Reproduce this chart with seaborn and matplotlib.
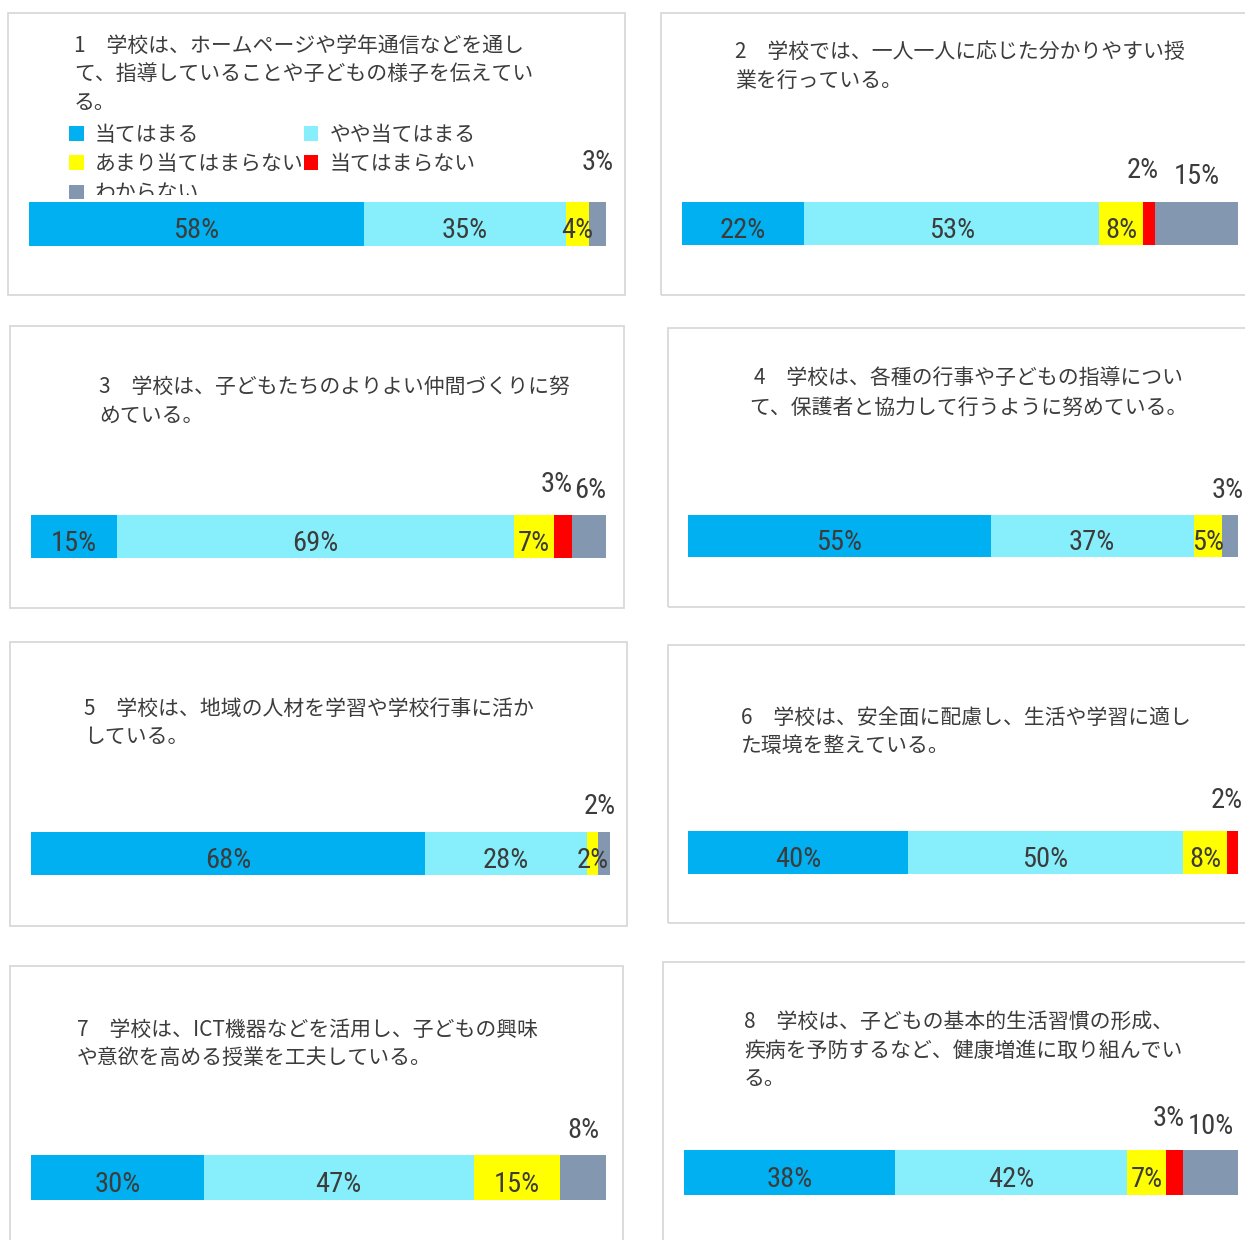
import numpy as np
import pandas as pd
import seaborn as sns
import matplotlib as mpl
import matplotlib.pyplot as plt
from matplotlib.patches import Rectangle, Patch
from matplotlib.transforms import Bbox
from matplotlib import font_manager

sns.set_theme(style='white')
plt.rcParams['font.family'] = ['Noto Sans CJK JP', 'DejaVu Sans']

W, H = 1245, 1240
TXT = '#3c3c3c'

# narrow face for the percent labels, whatever is installed
fonts = [(f.name, f.stretch) for f in font_manager.fontManager.ttflist]
narrow = ('condensed', 'semi-condensed', 'extra-condensed', 'ultra-condensed')
NUM_KW = dict(family=['DejaVu Sans'], fontsize=15)
for want in ['Liberation Sans Narrow', 'Roboto Condensed', 'Open Sans Condensed']:
    if any(n == want for n, s in fonts):
        NUM_KW = dict(family=[want], fontsize=20.5)
        break
else:
    for fam in ['Roboto', 'Noto Sans', 'Open Sans', 'DejaVu Sans', 'Inter']:
        hit = [s for n, s in fonts if n == fam and s in narrow]
        if hit:
            NUM_KW = dict(family=[fam], fontstretch=hit[0], fontsize=20.5)
            break

# ---- data ----
categories = ['当てはまる', 'やや当てはまる', 'あまり当てはまらない', '当てはまらない', 'わからない']
colors = ['#00B0F0', '#87EFFC', '#FFFF00', '#FF0000', '#8497B0']

titles = [
    '1　学校は、ホームページや学年通信などを通し\nて、指導していることや子どもの様子を伝えてい\nる。',
    '2　学校では、一人一人に応じた分かりやすい授\n業を行っている。',
    '3　学校は、子どもたちのよりよい仲間づくりに努\nめている。',
    '4　学校は、各種の行事や子どもの指導につい\nて、保護者と協力して行うように努めている。',
    '5　学校は、地域の人材を学習や学校行事に活か\nしている。',
    '6　学校は、安全面に配慮し、生活や学習に適し\nた環境を整えている。',
    '7　学校は、ICT機器などを活用し、子どもの興味\nや意欲を高める授業を工夫している。',
    '8　学校は、子どもの基本的生活習慣の形成、\n疾病を予防するなど、健康増進に取り組んでい\nる。',
]

q1 = [58, 35, 4, 0, 3]
q2 = [22, 53, 8, 2, 15]
q3 = [15, 69, 7, 3, 6]
q4 = [55, 37, 5, 0, 3]
q5 = [68, 28, 2, 0, 2]
q6 = [40, 50, 8, 2, 0]
q7 = [30, 47, 15, 0, 8]
q8 = [38, 42, 7, 3, 10]
values = [q1, q2, q3, q4, q5, q6, q7, q8]

# ---- layout (pixels, top-left origin) ----
boxes = [(8, 13, 625, 295), (661, 13, 1250, 295),
         (10, 326, 624, 608), (668, 328, 1250, 607),
         (10, 642, 627, 926), (668, 645, 1250, 923),
         (10, 966, 623, 1245), (663, 962, 1250, 1245)]
bars = [(29, 202, 606, 246), (682, 202, 1238, 245),
        (31, 515, 606, 558), (688, 515, 1238, 557),
        (31, 832, 610, 875), (688, 831, 1238, 874),
        (31, 1155, 606, 1200), (684, 1150, 1238, 1195)]
title_pos = [(74, 35, 'left'), (735, 41, 'left'),
             (99, 376, 'left'), (968, 368, 'center'),
             (84, 698, 'left'), (741, 707, 'left'),
             (77, 1019, 'left'), (744, 1011, 'left')]
gray_off = [(0, 40), (1, 25), (1, 25), (-2, 25), (-5, 25), (0, 25), (0, 24), (1, 24)]

fig = plt.figure(figsize=(W / 100, H / 100), dpi=100)


def frac(x0, y0, x1, y1):
    return [x0 / W, 1 - y1 / H, (x1 - x0) / W, (y1 - y0) / H]


for i, vals in enumerate(values):
    bx = frac(*boxes[i])
    fig.add_artist(Rectangle((bx[0], bx[1]), bx[2], bx[3], transform=fig.transFigure,
                             fill=False, edgecolor='#D9D9D9', linewidth=1.3))

    tx, ty, ha = title_pos[i]
    fig.text(tx / W, 1 - ty / H, titles[i], ha=ha, va='top', multialignment=ha,
             fontsize=15, color=TXT, linespacing=1.38)

    ax = fig.add_axes(frac(*bars[i]))
    cum = np.cumsum(vals)
    df = pd.DataFrame({'q': ['Q'] * len(categories), 'cum': cum, 'cat': categories})
    # draw from the total back to the first segment so they stack
    for j in range(len(categories) - 1, -1, -1):
        sns.barplot(data=df.iloc[[j]], x='cum', y='q', orient='h', color=colors[j],
                    saturation=1, width=1.0, linewidth=0, ax=ax)
    ax.set_xlim(0, 100)
    ax.set_ylim(0.5, -0.5)
    ax.axis('off')

    centers = cum - np.array(vals) / 2
    for j, v in enumerate(vals):
        if v <= 0:
            continue
        if j < 3:
            ax.annotate(f'{v}%', (centers[j], 0), xytext=(0, -7), textcoords='offset pixels',
                        ha='center', va='center', color=TXT,
                        annotation_clip=False, **NUM_KW)
        else:
            off = (-6, 31) if j == 3 else gray_off[i]
            ax.annotate(f'{v}%', (centers[j], -0.5), xytext=off, textcoords='offset pixels',
                        ha='center', va='center', color=TXT,
                        annotation_clip=False, **NUM_KW)

# legend in panel 1 (third row is cut off by the plot area)
handles = [Patch(facecolor=c, edgecolor='none') for c in colors]
order = [0, 2, 4, 1, 3]
leg = fig.legend([handles[k] for k in order], [categories[k] for k in order],
                 loc='upper left', bbox_to_anchor=(69 / W, 1 - 124 / H), ncol=2,
                 frameon=False, fontsize=15, handlelength=0.7, handleheight=0.7,
                 handletextpad=0.55, columnspacing=0.0, labelspacing=0.34,
                 borderpad=0, borderaxespad=0)
clip = Bbox.from_extents(0, H - 195, W, H)
for t in leg.get_texts():
    t.set_color(TXT)
    t.set_clip_box(clip)
    t.set_clip_on(True)

fig.savefig('out.png', dpi=100)
